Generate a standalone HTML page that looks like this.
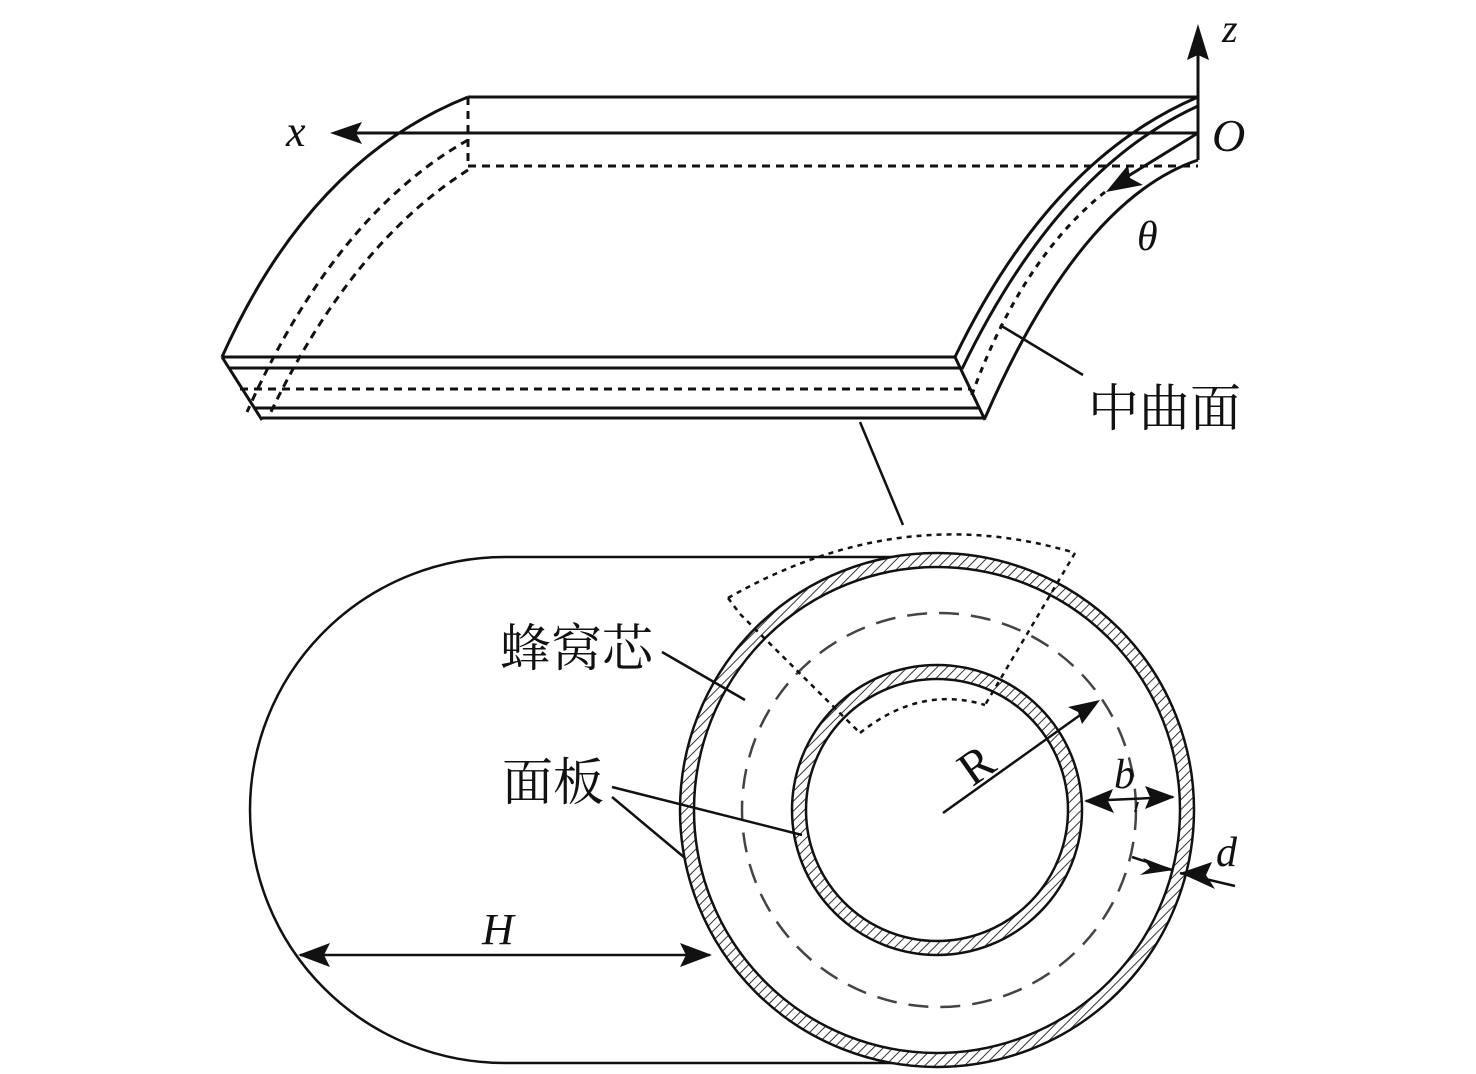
<!DOCTYPE html>
<html><head><meta charset="utf-8"><style>
html,body{margin:0;padding:0;background:#fff;}
svg{display:block;}
.t{font-family:"Liberation Serif","Noto Serif CJK SC",serif;fill:#111;}
.c{font-family:"Liberation Serif","Noto Serif CJK SC",serif;fill:#111;font-size:51px;}
</style></head><body>
<svg width="1476" height="1074" viewBox="0 0 1476 1074" xmlns="http://www.w3.org/2000/svg">
<defs>
<pattern id="h" width="7" height="7" patternUnits="userSpaceOnUse" patternTransform="rotate(45)">
<rect width="7" height="7" fill="#fff"/><line x1="0" y1="0" x2="0" y2="7" stroke="#333" stroke-width="2"/>
</pattern>
</defs>
<g fill="none" stroke="#111" stroke-width="3">
<line x1="468" y1="97" x2="1198" y2="97"/>
<line x1="345" y1="133" x2="1198" y2="133"/>
<line x1="468" y1="166" x2="1198" y2="166" stroke-dasharray="8,6"/>
<line x1="468" y1="97" x2="468" y2="166" stroke-dasharray="8,6"/>
<path d="M468,97 Q310,160 222,357"/>
<path d="M468,140 Q335,215 247,412" stroke-dasharray="8,6"/>
<path d="M468,170 Q350,245 268,418" stroke-dasharray="8,6"/>
<line x1="222" y1="357" x2="955" y2="357"/>
<line x1="230" y1="368" x2="960" y2="368"/>
<line x1="240" y1="389" x2="970" y2="389" stroke-dasharray="8,6"/>
<line x1="255" y1="408" x2="980" y2="408"/>
<line x1="262" y1="418" x2="985" y2="418"/>
<line x1="222" y1="357" x2="262" y2="420"/>
<line x1="955" y1="357" x2="985" y2="420"/>
<path d="M1198,97 Q1050,160 955,357"/>
<path d="M1198,106 Q1058,170 962,369"/>
<path d="M1105,192 Q1020,260 970,400" stroke-dasharray="6,6"/>
<path d="M1198,160 Q1080,200 985,418"/>
<line x1="1198" y1="40" x2="1198" y2="160"/>
<line x1="1198" y1="133" x2="1125" y2="178"/>
<line x1="860" y1="422" x2="903" y2="525" stroke-width="2.5"/>
<line x1="1000" y1="325" x2="1083" y2="375" stroke-width="2.5"/>
</g>
<polygon points="1198,24 1187,60 1198,55 1209,60" fill="#111"/>
<polygon points="330,133 362,122 356,133 362,144" fill="#111"/>
<polygon points="1106,192 1128,165 1130,178 1143,185" fill="#111"/>
<text class="t" x="1222" y="42" font-size="40" font-style="italic">z</text>
<text class="t" x="1212" y="151" font-size="46" font-style="italic">O</text>
<text class="t" x="286" y="146" font-size="44" font-style="italic">x</text>
<text class="t" x="1137" y="250" font-size="42" font-style="italic">θ</text>
<text class="c" x="1088" y="426">中曲面</text>

<g fill="none" stroke="#111" stroke-width="2.5">
<path d="M937,557 L505,557 A255,253 0 0 0 505,1063 L937,1063"/>
</g>
<circle cx="937" cy="810" r="203" fill="#fff" stroke="none"/>
<circle cx="937" cy="810" r="250" fill="none" stroke="url(#h)" stroke-width="14"/>
<circle cx="937" cy="810" r="257" fill="none" stroke="#111" stroke-width="2.5"/>
<circle cx="937" cy="810" r="243" fill="none" stroke="#111" stroke-width="2.5"/>
<circle cx="937" cy="810" r="138" fill="none" stroke="url(#h)" stroke-width="14"/>
<circle cx="937" cy="810" r="145" fill="none" stroke="#111" stroke-width="2.5"/>
<circle cx="937" cy="810" r="131" fill="none" stroke="#111" stroke-width="2.5"/>
<circle cx="939" cy="810" r="197" fill="none" stroke="#444" stroke-width="2.5" stroke-dasharray="20,12"/>
<g fill="none" stroke="#111" stroke-width="2.5" stroke-dasharray="5,5">
<path d="M728,598 Q900,500 1075,553"/>
<path d="M728,598 L740,614 L860,733"/>
<path d="M1075,553 L985,705"/>
<path d="M860,733 Q920,685 985,705"/>
</g>
<g stroke="#111" stroke-width="2.5" fill="none">
<line x1="662" y1="652" x2="745" y2="700"/>
<line x1="612" y1="787" x2="802" y2="835"/>
<line x1="612" y1="797" x2="685" y2="858"/>
<line x1="300" y1="955" x2="710" y2="955"/>
<line x1="943" y1="813" x2="1090" y2="708"/>
<line x1="1086" y1="801" x2="1173" y2="797"/>
<line x1="1132" y1="857" x2="1172" y2="870"/>
<line x1="1180" y1="873" x2="1235" y2="886"/>
<line x1="1138" y1="802" x2="1135" y2="812" stroke-width="2"/>
</g>
<polygon points="298,955 330,943 324,955 330,967" fill="#111"/>
<polygon points="712,955 680,943 686,955 680,967" fill="#111"/>
<polygon points="1100,700 1068,707 1078,712 1082,724" fill="#111"/>
<polygon points="1084,801 1113,789 1108,801 1114,813" fill="#111"/>
<polygon points="1175,797 1145,786 1150,797 1145,809" fill="#111"/>
<polygon points="1174,870 1143,858 1150,868 1140,875" fill="#111"/>
<polygon points="1180,873 1212,862 1206,875 1215,889" fill="#111"/>
<text class="t" x="482" y="944" font-size="44" font-style="italic">H</text>
<text class="t" x="958" y="778" font-size="48" transform="rotate(-35 980 760)">R</text>
<text class="t" x="1114" y="788" font-size="42" font-style="italic">b</text>
<text class="t" x="1216" y="866" font-size="42" font-style="italic">d</text>
<text class="c" x="500" y="666">蜂窝芯</text>
<text class="c" x="502" y="800">面板</text>
</svg>
</body></html>
